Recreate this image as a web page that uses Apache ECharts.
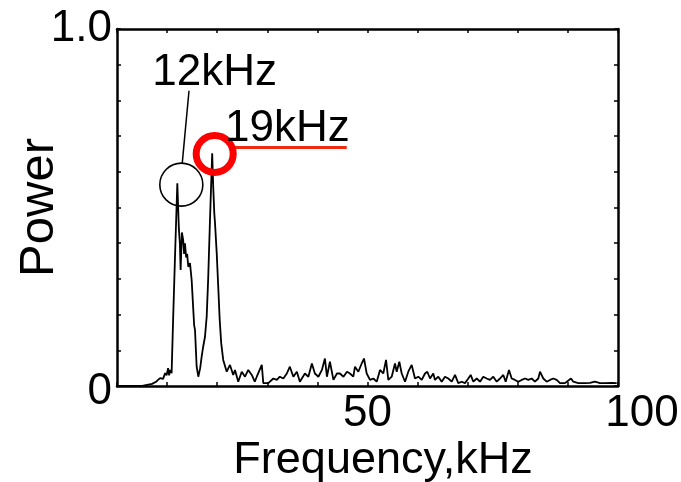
<!DOCTYPE html>
<html>
<head>
<meta charset="utf-8">
<script src="https://cdn.jsdelivr.net/npm/echarts@6/dist/echarts.min.js"></script>
<style>html,body{margin:0;padding:0;background:#fff}#c{width:681px;height:482px}</style>
</head>
<body>
<div id="c"></div>
<script>
// Spectrum: frequency (kHz) and power
var freq = [0,5.0,6.0,7.0,7.8,8.2,8.6,8.9,9.2,9.6,9.9,10.2,10.4,10.6,10.9,11.2,11.6,12.04,12.35,12.55,12.7,12.95,13.2,13.4,13.57,13.8,14.0,14.23,14.57,14.9,15.23,15.4,15.57,15.9,16.23,16.6,16.9,17.2,17.56,17.9,18.2,18.56,19.0,19.2,19.42,19.56,19.9,20.2,20.5,20.8,21.2,
  21.9,22.55,23.2,23.55,24.2,24.9,25.55,26.2,26.9,27.5,27.9,28.9,29.2,30.2,31.2,31.9,32.5,33.2,33.9,34.5,35.2,35.9,36.5,37.5,38.2,38.9,39.5,40.2,40.9,41.5,41.9,42.5,43.2,43.9,44.5,45.2,45.9,46.5,
  47.17,47.5,48.17,48.84,49.3,49.84,50.5,51.16,51.84,52.5,53.15,53.7,54.15,54.83,55.49,55.83,56.35,56.83,57.49,58.14,58.82,59.48,60.14,60.82,61.48,61.94,62.48,63.13,63.47,64.13,64.81,65.47,66.13,66.81,67.47,68.12,68.8,69.46,70.12,70.6,71.12,71.8,72.46,73.11,
  73.79,74.45,75.11,75.79,76.45,77.11,77.58,78.24,78.78,79.44,80.1,80.78,81.44,82.1,82.77,83.43,84.09,84.43,85.09,85.77,86.43,87.09,87.76,88.42,89.42,90.62,91.08,92.08,93.41,94.41,95.41,96.41,97.41,98.74,99.74];
var power = [0,0,0.003,0.006,0.012,0.017,0.022,0.026,0.020,0.036,0.030,0.050,0.030,0.045,0.036,0.185,0.372,0.568,0.44,0.40,0.325,0.43,0.41,0.37,0.40,0.36,0.37,0.334,0.344,0.297,0.213,0.17,0.157,0.054,0.026,0.05,0.082,0.11,0.138,0.194,0.30,0.465,0.652,0.56,0.484,0.457,0.373,0.28,0.185,0.12,0.073,
  0.040,0.059,0.031,0.045,0.012,0.040,0.026,0.045,0.031,0.012,0.026,0.059,0.008,0.008,0.021,0.017,0.026,0.021,0.035,0.054,0.026,0.040,0.012,0.035,0.026,0.063,0.035,0.026,0.045,0.077,0.026,0.068,0.017,0.035,0.035,0.026,0.040,0.035,
  0.026,0.054,0.040,0.063,0.077,0.035,0.017,0.021,0.012,0.045,0.035,0.073,0.017,0.026,0.063,0.040,0.068,0.035,0.012,0.040,0.059,0.021,0.026,0.017,0.035,0.040,0.021,0.035,0.017,0.026,0.012,0.026,0.021,0.012,0.031,0.008,0.012,0.008,0.021,0.031,0.012,0.021,0.012,0.026,
  0.021,0.017,0.026,0.012,0.021,0.031,0.012,0.045,0.021,0.017,0.012,0.017,0.021,0.017,0.021,0.012,0.021,0.040,0.021,0.012,0.017,0.021,0.017,0.008,0.008,0.021,0.012,0.008,0.008,0.009,0.012,0.008,0.008,0.009,0.008];

// Axis tick labels
var xTickLabels = {50: '50', 100: '100'};
var yTickLabels = {0: '0', 1: '1.0'};

// Annotations (data coordinates)
var blackCircle = [12.84, 0.564];
var redCircle = [19.5, 0.65];
var pointerLine = [[14.37, 0.827], [13.03, 0.625]];
var redLine = [[23.55, 0.668], [45.85, 0.668]];
var annoText = [{name: '12kHz', value: [19.5, 0.878]}, {name: '19kHz', value: [34.0, 0.72]}];

var FONT = '"Liberation Sans", Arial, sans-serif';
var data = freq.map(function (f, i) { return [f, power[i]]; });

var chart = echarts.init(document.getElementById('c'));
var axisLine = {show: true, onZero: false, lineStyle: {color: '#000', width: 2.5}};
chart.setOption({
  animation: false,
  grid: {left: 117, right: 63, top: 29, bottom: 96, containLabel: false, outerBoundsMode: 'none'},
  xAxis: [{
    type: 'value', min: 0, max: 100, interval: 10, position: 'bottom',
    axisLine: axisLine,
    axisTick: {show: true, inside: true, length: 4, lineStyle: {color: '#000', width: 1.5}},
    splitLine: {show: false},
    axisLabel: {
      margin: 6, color: '#000', fontSize: 44, fontFamily: FONT, hideOverlap: false,
      formatter: function (v) { if (v === 100) return '{r|100}'; return xTickLabels[v] || ''; },
      rich: {r: {fontSize: 44, fontFamily: FONT, color: '#000', padding: [0, 0, 0, 48]}}
    },
    name: 'Frequency,kHz', nameLocation: 'middle', nameGap: 52, nameMoveOverlap: false,
    nameTextStyle: {color: '#000', fontSize: 45, fontFamily: FONT, padding: [0, 0, 0, 31]}
  }, {
    type: 'value', min: 0, max: 100, interval: 10, position: 'top',
    axisLine: axisLine,
    axisTick: {show: true, inside: true, length: 4, lineStyle: {color: '#000', width: 1.5}},
    axisLabel: {show: false}, splitLine: {show: false}
  }],
  yAxis: [{
    type: 'value', min: 0, max: 1, interval: 0.1, position: 'left',
    axisLine: axisLine,
    axisTick: {show: true, inside: true, length: 4, lineStyle: {color: '#000', width: 1.5}},
    splitLine: {show: false},
    axisLabel: {
      margin: 5, color: '#000', fontSize: 44, fontFamily: FONT,
      formatter: function (v) {
        var r = Math.round(v * 10) / 10;
        if (r === 0) return '{d|0}';
        return yTickLabels[r] || '';
      },
      rich: {d: {fontSize: 44, fontFamily: FONT, color: '#000', padding: [12, 0, 0, 0]}}
    },
    name: 'Power', nameLocation: 'middle', nameGap: 53, nameMoveOverlap: false,
    nameTextStyle: {color: '#000', fontSize: 49, fontFamily: FONT}
  }, {
    type: 'value', min: 0, max: 1, interval: 0.1, position: 'right',
    axisLine: axisLine,
    axisTick: {show: true, inside: true, length: 4, lineStyle: {color: '#000', width: 1.5}},
    axisLabel: {show: false}, splitLine: {show: false}
  }],
  series: [{
    type: 'line', data: data, showSymbol: false, symbol: 'none',
    lineStyle: {color: '#000', width: 1.8}, z: 3
  }, {
    type: 'line', data: pointerLine, symbol: 'none',
    lineStyle: {color: '#000', width: 1.5}, z: 4
  }, {
    type: 'line', data: redLine, symbol: 'none',
    lineStyle: {color: '#ee2a10', width: 3}, z: 4
  }, {
    type: 'scatter', data: [blackCircle], symbol: 'circle', symbolSize: 43,
    itemStyle: {color: 'rgba(0,0,0,0)', borderColor: '#000', borderWidth: 1.6, opacity: 1}, z: 5
  }, {
    type: 'scatter', data: [redCircle], symbol: 'circle', symbolSize: 37,
    itemStyle: {color: 'rgba(0,0,0,0)', borderColor: '#ff0000', borderWidth: 7, opacity: 1}, z: 6
  }, {
    type: 'scatter', data: annoText, symbolSize: 0, z: 7,
    itemStyle: {color: '#000', opacity: 1},
    label: {
      show: true, position: [0, 0], align: 'center', verticalAlign: 'middle',
      formatter: function (p) { return p.name; },
      color: '#000', opacity: 1, fontSize: 44, fontFamily: FONT, textBorderWidth: 0
    }
  }]
});
</script>
</body>
</html>
